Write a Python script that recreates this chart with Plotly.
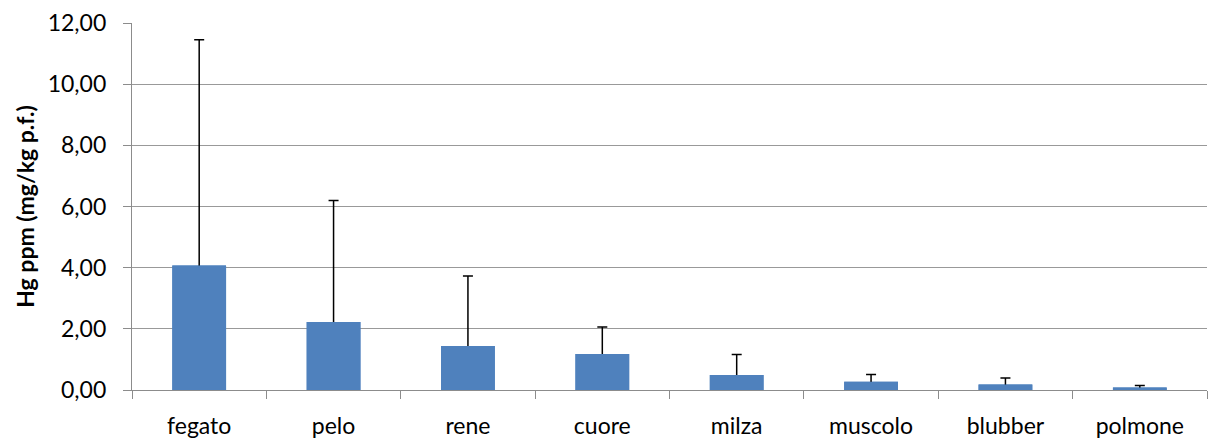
import plotly.graph_objects as go

categories = ["fegato", "pelo", "rene", "cuore", "milza", "muscolo", "blubber", "polmone"]
means = [4.07, 2.22, 1.44, 1.18, 0.49, 0.27, 0.18, 0.08]
errors_plus = [7.38, 3.98, 2.29, 0.88, 0.67, 0.24, 0.21, 0.07]
y_ticks = [0, 2, 4, 6, 8, 10, 12]

FONT = "Lato, Carlito, Calibri, sans-serif"
BAR_COLOR = "#4F81BD"

fig = go.Figure()
# bar with upward error bars (lower end runs down inside the bar, hidden below)
fig.add_trace(go.Bar(
    x=categories,
    y=means,
    marker=dict(color=BAR_COLOR, line=dict(width=0)),
    error_y=dict(type="data", symmetric=False, array=errors_plus,
                 arrayminus=means,
                 color="black", thickness=1.5, width=5),
    width=0.4,
    hoverinfo="skip",
))
# same bars drawn on top to hide the lower half of the error bars
fig.add_trace(go.Bar(
    x=categories,
    y=means,
    marker=dict(color=BAR_COLOR, line=dict(width=0)),
    width=0.4,
))

fig.update_layout(
    width=1210, height=439,
    margin=dict(l=132, r=3, t=23, b=49),
    plot_bgcolor="white", paper_bgcolor="white",
    separators=",.",
    showlegend=False,
    barmode="overlay",
    font=dict(family=FONT, size=23, color="black"),
)
fig.update_xaxes(
    type="category",
    showline=True, linecolor="#8c8c8c", linewidth=1.3,
    ticks="outside", tickson="boundaries", ticklen=8, tickcolor="#8c8c8c", tickwidth=1.3,
    tickfont=dict(family=FONT, size=23, color="black"),
    ticklabelstandoff=15,
    automargin=False,
    showgrid=False,
)
fig.update_yaxes(
    range=[0, 12], tickvals=y_ticks, tickformat=".2f",
    showline=True, linecolor="#8c8c8c", linewidth=1.3,
    ticks="outside", ticklen=8, tickcolor="#8c8c8c", tickwidth=1.3,
    showgrid=True, gridcolor="#999999", gridwidth=1.3,
    zeroline=False,
    tickfont=dict(family=FONT, size=23, color="black"),
    ticklabelstandoff=12,
    automargin=False,
    title=dict(text="<b>Hg ppm (mg/kg p.f.)</b>", font=dict(family=FONT, size=23, color="black"), standoff=6),
)

fig.write_html("out.html")
